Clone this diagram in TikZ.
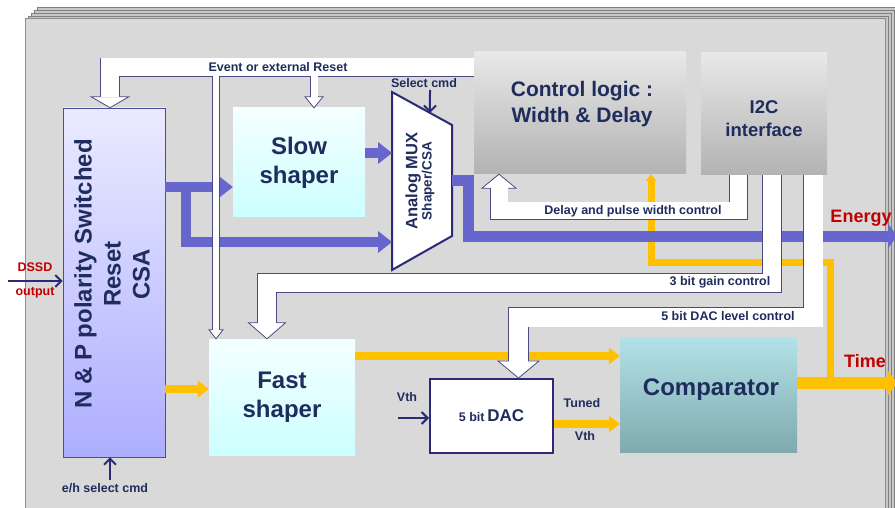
\documentclass[tikz,border=0pt]{standalone}
\usepackage{fontspec}
\setmainfont{Liberation Sans}
\usetikzlibrary{calc,arrows.meta}
\definecolor{navyT}{HTML}{1F2D5E}
\definecolor{navyA}{HTML}{2A2A78}
\definecolor{busc}{HTML}{4A4A82}
\definecolor{blueA}{HTML}{6666CC}
\definecolor{orangeA}{HTML}{FFC000}
\definecolor{redT}{HTML}{C00000}
\definecolor{panel}{HTML}{D9D9D9}
\newcommand\hhead[5]{%
  \filldraw[fill=white,draw=busc,line width=0.8pt,line join=miter] (#1) -- ($(#1)+({-#2},{-(#4)*#3})$) -- ($(#1)+({#2},{-(#4)*#3})$) -- cycle;
  \fill[white] ($(#1)+({-#5/2},{-(#4)*(#3+1.5)})$) rectangle ($(#1)+({#5/2},{-(#4)*(#3-0.8)})$);
}
\begin{document}
\begin{tikzpicture}[x=1pt,y=-1pt,
  box/.style={inner sep=0pt, text=navyT, align=center},
  cyanbox/.style={top color=cyan!4, bottom color=cyan!20},
  graybox/.style={top color=black!9, bottom color=black!30},
  f24/.style={font=\bfseries\fontsize{24}{29}\selectfont},
  lbl/.style={font=\bfseries\fontsize{12.5}{15}\selectfont, text=navyT, inner sep=0pt},
  rlbl/.style={font=\bfseries\fontsize{18}{21}\selectfont, text=redT, inner sep=0pt},
  bo/.style={draw=busc, line join=miter},
  bi/.style={draw=white, line join=miter},
  bl/.style={draw=blueA, line width=10pt, line join=miter, -{Triangle[length=14pt,width=22pt,line width=0pt]}},
  orl/.style={draw=orangeA, line width=8pt, line join=miter, -{Triangle[length=11pt,width=17pt,line width=0pt]}},
  na/.style={draw=navyA, line width=2pt, -{Straight Barb[length=6pt,width=12pt,line width=2pt]}}
]
\useasboundingbox (0,0) rectangle (895,508);
\clip (0,0) rectangle (895,508);
% ---------- frame ----------
\foreach \k in {4,3,2,1}{
  \filldraw[fill=black!22, draw=black!50, line width=0.9pt] ({25+3*\k},{19-3*\k}) rectangle ({885+3*\k},530);
}
\filldraw[fill=panel, draw=black!45, line width=1pt] (25,19) rectangle (885,530);
% ---------- boxes ----------
\node[box, top color=blue!8, bottom color=blue!32, draw=blue!45!black!70, line width=0.6pt,
      minimum width=102pt, minimum height=349pt] (csa) at (114,282.5) {};
\node[box, f24, rotate=90] at (112,274) {N \& P polarity Switched\\Reset\\CSA};
\node[box, cyanbox, f24, minimum width=132pt, minimum height=109pt] (slow) at (299,162.5) {Slow\\shaper};
\node[box, graybox, minimum width=212pt, minimum height=122pt] (ctrl) at (580,113) {};
\node[box, font=\bfseries\fontsize{21}{26}\selectfont] at (582,104) {Control logic :\\Width \& Delay};
\node[box, graybox, minimum width=126pt, minimum height=122pt] (i2c) at (764,114) {};
\node[box, font=\bfseries\fontsize{18.5}{23}\selectfont] at (764,119) {I2C\\interface};
\node[box, cyanbox, f24, minimum width=146pt, minimum height=116pt] (fast) at (282,397) {Fast\\shaper};
\node[box, fill=white, draw=navyA, line width=2pt, minimum width=123pt, minimum height=74pt] (dac) at (491.5,416)
  {{\bfseries\fontsize{12.5}{15}\selectfont 5 bit} {\bfseries\fontsize{17}{20}\selectfont DAC}};
\node[box, top color={rgb,255:red,178;green,226;blue,232}, bottom color={rgb,255:red,128;green,170;blue,173},
      minimum width=177pt, minimum height=115pt] (comp) at (708.5,394.5) {};
\node[box, font=\bfseries\fontsize{24}{29}\selectfont] at (711,390) {Comparator};
% MUX
\coordinate (mTL) at (392,92);
\coordinate (mTR) at (452,125);
\coordinate (mBR) at (452,236);
\coordinate (mBL) at (392,270);
\filldraw[fill=white, draw=navyA, line width=2pt, line join=miter] (mTL) -- (mTR) -- (mBR) -- (mBL) -- cycle;
\node[box, rotate=90] (mux) at (420,181)
  {\bfseries\fontsize{16.5}{20}\selectfont Analog MUX\\\bfseries\fontsize{13.5}{20}\selectfont Shaper/CSA};
% ---------- orange ----------
\coordinate (tj) at (830,383);
\coordinate (eE) at (897,236);
\coordinate (tE) at (897,383);
\draw[orl, line width=7pt, -{Triangle[length=7pt,width=11pt,line width=0pt]}] (tj) -- (830,262) -- (651,262) -- (ctrl.south -| 651,0);
\draw[orl] (csa.east |- 0,389) -- (fast.west |- 0,389);
\draw[orl] (fast.east |- 0,356) -- (comp.west |- 0,356);
\draw[orl] (dac.east |- 0,424) -- (comp.west |- 0,424);
\draw[orl, line width=12pt, -{Triangle[length=10pt,width=27pt,line width=0pt]}] (comp.east |- tE) -- (tE);
% ---------- blue ----------
\draw[bl] (csa.east |- 0,187) -- (slow.west |- 0,187);
\draw[bl] (186,182) -- (186,242) -- (mBL |- 0,242);
\draw[bl] (slow.east |- 0,153) -- (mBL |- 0,153);
\draw[bl, line width=11pt, -{Triangle[length=9pt,width=25pt,line width=0pt]}] (mBR |- 0,181) -- (468,181) -- (468,236) -- (eE);
% ---------- white buses ----------
\coordinate (evS) at (ctrl.west |- 0,67.5);
\coordinate (t0) at (csa.north -| 110,0);
\coordinate (t1) at (fast.north -| 216,0);
\coordinate (t2) at (slow.north -| 314,0);
\draw[bo, line width=19.6pt] (evS) -- (110,67.5) -- (110,98);
\draw[bo, line width=7.6pt] (216,67.5) -- (216,330);
\draw[bo, line width=8.6pt] (314,67.5) -- (314,97);
\draw[bi, line width=18pt] (evS) -- (110,67.5) -- (110,98);
\draw[bi, line width=6pt] (216,67.5) -- (216,330);
\draw[bi, line width=7pt] (314,67.5) -- (314,97);
\hhead{t0}{19}{11}{1}{18}
\hhead{t1}{7}{9}{1}{6}
\hhead{t2}{9}{11}{1}{7}
% delay bus
\coordinate (dS) at (i2c.south -| 738.5,0);
\coordinate (t3) at (ctrl.south -| 499,0);
\draw[bo, line width=18.6pt] (dS) -- (738.5,211) -- (499,211) -- (499,188);
\draw[bi, line width=17pt] (dS) -- (738.5,211) -- (499,211) -- (499,188);
\hhead{t3}{17}{14}{-1}{17}
% 3 bit bus
\coordinate (gS) at (i2c.south -| 772,0);
\coordinate (t4) at (fast.north -| 267,0);
\draw[bo, line width=19.6pt] (gS) -- (772,283) -- (267,283) -- (267,323);
\draw[bi, line width=18pt] (gS) -- (772,283) -- (267,283) -- (267,323);
\hhead{t4}{18.5}{16}{1}{18}
% 5 bit bus
\coordinate (lS) at (i2c.south -| 813,0);
\coordinate (t5) at (dac.north -| 518.5,0);
\draw[bo, line width=20.6pt] (lS) -- (813,317) -- (518.5,317) -- (518.5,362);
\draw[bi, line width=19pt] (lS) -- (813,317) -- (518.5,317) -- (518.5,362);
\hhead{t5}{20.5}{17}{1}{19}
% ---------- thin navy arrows ----------
\coordinate (dIn) at (8,281);
\draw[na] (dIn) -- (csa.west |- dIn);
\coordinate (ehIn) at (110,480);
\draw[na] (ehIn) -- (csa.south -| ehIn);
\coordinate (vIn) at (398,418);
\draw[na] (vIn) -- (dac.west |- vIn);
\coordinate (sIn) at (430,90);
\draw[na] (sIn) -- ($(mTL)!0.633!(mTR)$);
% ---------- labels ----------
\node[lbl] at (278,67.5) {Event or external Reset};
\node[lbl] at (424,83) {Select cmd};
\node[lbl] at (633,211) {Delay and pulse width control};
\node[lbl] at (720,282.5) {3 bit gain control};
\node[lbl] at (728,316.5) {5 bit DAC level control};
\node[rlbl] at (861,218) {Energy};
\node[rlbl] at (865,361) {Time};
\node[lbl, text=redT] at (35,267) {DSSD};
\node[lbl, text=redT] at (35,293) {output};
\node[lbl] at (105,488) {e/h select cmd};
\node[lbl] at (407,397) {Vth};
\node[lbl] at (582,403) {Tuned};
\node[lbl] at (585,436) {Vth};
\end{tikzpicture}
\end{document}
